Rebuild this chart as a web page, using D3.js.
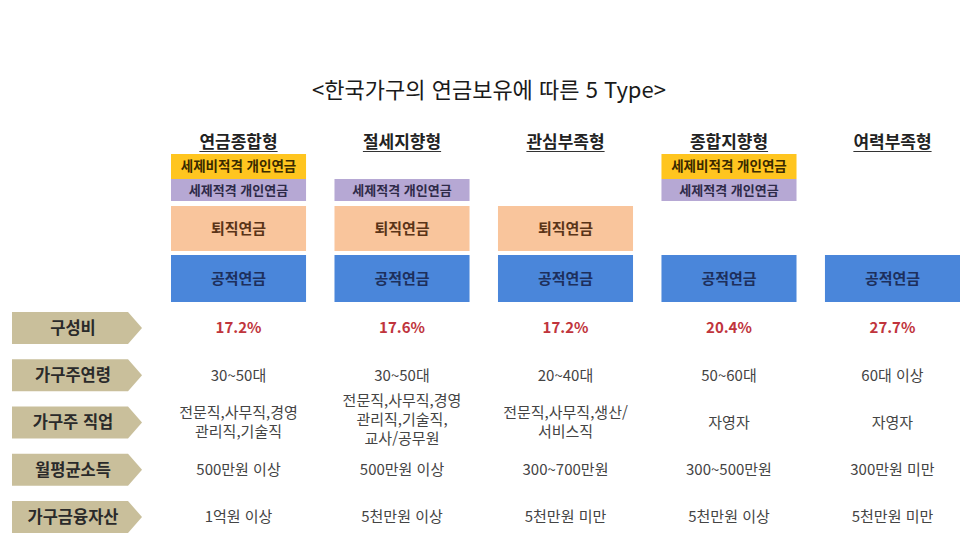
<!DOCTYPE html>
<html lang="ko">
<head>
<meta charset="UTF-8">
<title>한국가구의 연금보유에 따른 5 Type</title>
<script src="https://cdnjs.cloudflare.com/ajax/libs/d3/7.8.5/d3.min.js"></script>
<style>
    body { margin: 0; background: #fff; font-family: "Noto Sans CJK KR", "Noto Sans", sans-serif; }
    svg { display: block; }
</style>
</head>
<body>
<div id="chart"></div>
<script>
// data
const types = ["연금종합형", "절세지향형", "관심부족형", "종합지향형", "여력부족형"];
const layers = ["세제비적격 개인연금", "세제적격 개인연금", "퇴직연금", "공적연금"];
// which layers each type holds (same order as layers)
const holds = [
    [1, 1, 1, 1],
    [0, 1, 1, 1],
    [0, 0, 1, 1],
    [1, 1, 0, 1],
    [0, 0, 0, 1]
];
const rowLabels = ["구성비", "가구주연령", "가구주 직업", "월평균소득", "가구금융자산"];
const shares = ["17.2%", "17.6%", "17.2%", "20.4%", "27.7%"];
const ages = ["30~50대", "30~50대", "20~40대", "50~60대", "60대 이상"];
const jobs = [
    ["전문직,사무직,경영", "관리직,기술직"],
    ["전문직,사무직,경영", "관리직,기술직,", "교사/공무원"],
    ["전문직,사무직,생산/", "서비스직"],
    ["자영자"],
    ["자영자"]
];
const incomes = ["500만원 이상", "500만원 이상", "300~700만원", "300~500만원", "300만원 미만"];
const assets = ["1억원 이상", "5천만원 이상", "5천만원 미만", "5천만원 이상", "5천만원 미만"];

const W = 976, H = 548;
const svg = d3.select("#chart").append("svg")
    .attr("width", W).attr("height", H);

const x = d3.scaleBand().domain(types).range([171, 960]).paddingInner(0.174).paddingOuter(0);

// layer layout: top and height of each layer
const layerTop = { "세제비적격 개인연금": 154, "세제적격 개인연금": 179, "퇴직연금": 206, "공적연금": 255 };
const layerH = { "세제비적격 개인연금": 25, "세제적격 개인연금": 22, "퇴직연금": 45, "공적연금": 47 };
const layerFill = d3.scaleOrdinal().domain(layers).range(["#ffc51f", "#b6a8d4", "#f9c59c", "#4a86da"]);
const layerText = d3.scaleOrdinal().domain(layers).range(["#3a2a00", "#2e2a48", "#5a3418", "#1d2f5c"]);
const layerFont = d3.scaleOrdinal().domain(layers).range([13.5, 13, 15, 15]);

// title
svg.append("text")
    .attr("x", 489).attr("y", 98)
    .attr("text-anchor", "middle")
    .attr("font-size", 22).attr("font-weight", "normal").attr("fill", "#1a1a1a")
    .text("<한국가구의 연금보유에 따른 5 Type>");

// column headers
const head = svg.selectAll(".head").data(types).enter().append("g").attr("class", "head");
head.append("text")
    .attr("x", d => x(d) + x.bandwidth() / 2)
    .attr("y", 148)
    .attr("text-anchor", "middle")
    .attr("font-size", 17).attr("font-weight", "bold").attr("fill", "#222")
    .text(d => d);
head.each(function (d) {
    const g = d3.select(this);
    const w = g.select("text").node().getComputedTextLength();
    const cx = x(d) + x.bandwidth() / 2;
    g.append("line")
        .attr("x1", cx - w / 2).attr("x2", cx + w / 2)
        .attr("y1", 151.5).attr("y2", 151.5)
        .attr("stroke", "#333").attr("stroke-width", 1);
});

// stacked pension boxes
const cells = [];
types.forEach((t, i) => layers.forEach((l, j) => { if (holds[i][j]) cells.push({ type: t, layer: l }); }));

const box = svg.selectAll(".box").data(cells).enter().append("g").attr("class", "box");
box.append("rect")
    .attr("x", d => x(d.type))
    .attr("y", d => layerTop[d.layer])
    .attr("width", x.bandwidth())
    .attr("height", d => layerH[d.layer])
    .attr("fill", d => layerFill(d.layer));
box.append("text")
    .attr("x", d => x(d.type) + x.bandwidth() / 2)
    .attr("y", d => layerTop[d.layer] + layerH[d.layer] / 2)
    .attr("dy", "0.36em")
    .attr("text-anchor", "middle")
    .attr("font-size", d => layerFont(d.layer))
    .attr("font-weight", "bold")
    .attr("fill", d => layerText(d.layer))
    .text(d => d.layer);

// row labels (arrow tags)
const y = d3.scalePoint().domain(rowLabels).range([328, 517]);
const tagH = 32, tagL = 12, tagBody = 116, tagTip = 14;

const tag = svg.selectAll(".tag").data(rowLabels).enter().append("g").attr("class", "tag");
tag.append("path")
    .attr("d", d => {
        const c = y(d), t = c - tagH / 2, b = c + tagH / 2;
        return `M${tagL},${t}H${tagL + tagBody}L${tagL + tagBody + tagTip},${c}L${tagL + tagBody},${b}H${tagL}Z`;
    })
    .attr("fill", "#c9bf9b");
tag.append("text")
    .attr("x", tagL + tagBody / 2 + 3)
    .attr("y", d => y(d))
    .attr("dy", "0.36em")
    .attr("text-anchor", "middle")
    .attr("font-size", 16.5).attr("font-weight", "bold").attr("fill", "#2a2a2a")
    .text(d => d);

// row values
const rows = [shares, ages, jobs, incomes, assets];
const lineH = 19;
rowLabels.forEach((r, ri) => {
    const vals = rows[ri];
    svg.selectAll(".v" + ri).data(types).enter().append("text")
        .attr("class", "v" + ri)
        .attr("x", d => x(d) + x.bandwidth() / 2)
        .attr("text-anchor", "middle")
        .attr("font-size", 15)
        .attr("font-weight", ri === 0 ? "bold" : "normal")
        .attr("fill", ri === 0 ? "#c0343c" : "#444")
        .each(function (d, i) {
            const lines = [].concat(vals[i]);
            const t0 = y(r) - (lines.length - 1) * lineH / 2 + (lines.length > 2 ? -3 : 0);
            d3.select(this).selectAll("tspan").data(lines).enter().append("tspan")
                .attr("x", x(d) + x.bandwidth() / 2)
                .attr("y", (l, k) => t0 + k * lineH)
                .attr("dy", "0.36em")
                .text(l => l);
        });
});
</script>
</body>
</html>
